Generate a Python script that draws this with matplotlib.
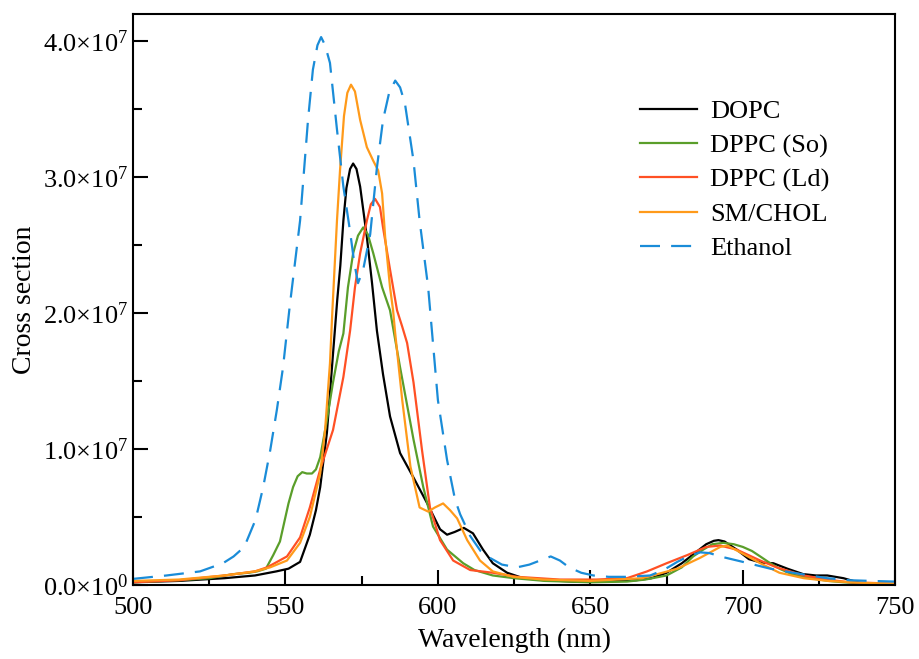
import matplotlib
matplotlib.use('Agg')
import matplotlib.pyplot as plt
from matplotlib.ticker import MultipleLocator, FuncFormatter

plt.rcParams['font.family'] = ['Liberation Serif', 'DejaVu Serif']
plt.rcParams['mathtext.fontset'] = 'custom'
plt.rcParams['mathtext.rm'] = 'Liberation Serif'
plt.rcParams['mathtext.it'] = 'Liberation Serif:italic'

# values in units of 1e7
wl_eth = [500, 511, 522, 529.5, 533, 536.5, 540.2, 542.7, 545, 547.2, 549.2, 551.4, 554.8, 557.4,
          559, 560.5, 561.7, 563, 564.6, 566.9, 569, 571.2, 572.5, 573.8, 575.5, 577.8, 580, 582,
          584, 586, 587.6, 589.2, 592, 594, 596.8, 600, 603, 605.6, 607.3, 610.6, 614, 617, 621,
          626, 630, 633.5, 637, 640, 643, 647, 651, 656, 662, 669.6, 674, 678.5, 682, 686, 689,
          692.6, 700, 709, 716.5, 722, 727.7, 735, 742, 750]
eth = [0.045, 0.07, 0.10, 0.16, 0.21, 0.28, 0.48, 0.72, 0.99, 1.29, 1.6, 2.05, 2.68, 3.42,
       3.79, 3.97, 4.03, 3.97, 3.84, 3.35, 2.93, 2.6, 2.38, 2.22, 2.32, 2.58, 3.07, 3.42,
       3.62, 3.71, 3.66, 3.54, 3.12, 2.68, 2.19, 1.36, 0.92, 0.63, 0.52, 0.36, 0.25, 0.2, 0.15,
       0.13, 0.15, 0.18, 0.21, 0.18, 0.13, 0.09, 0.07, 0.06, 0.06, 0.07, 0.11, 0.17, 0.21, 0.24, 0.235,
       0.21, 0.17, 0.12, 0.09, 0.07, 0.05, 0.035, 0.03, 0.025]

wl_dopc = [500, 515, 530, 540, 547, 551, 554.8, 558, 560, 561.4, 563.6, 565.6, 567, 568, 569, 570,
           571.2, 572.2, 573.3, 574.5, 576.7, 578.4, 580, 582, 584.3, 587.6, 592, 596.5, 600.7, 603,
           605.5, 608.5, 611.5, 614.8, 618, 622.7, 628, 635, 645, 655, 665, 670, 675, 680, 684, 688,
           690.5, 692, 694, 698, 702, 706, 710, 714.6, 719.8, 724, 727.7, 733, 738.5, 743, 750]
dopc = [0.02, 0.03, 0.05, 0.07, 0.1, 0.12, 0.17, 0.37, 0.55, 0.72, 1.12, 1.7, 2.1, 2.35, 2.68, 2.92,
        3.06, 3.1, 3.06, 2.93, 2.56, 2.22, 1.87, 1.55, 1.24, 0.97, 0.79, 0.6, 0.41, 0.37,
        0.39, 0.42, 0.38, 0.26, 0.16, 0.09, 0.05, 0.035, 0.025, 0.025, 0.035, 0.05, 0.09, 0.16, 0.23, 0.3,
        0.325, 0.33, 0.32, 0.26, 0.19, 0.165, 0.16, 0.12, 0.08, 0.07, 0.07, 0.05, 0.015, 0.005, 0.003]

wl_so = [500, 515, 525, 533, 538, 540.7, 543.6, 546, 548.2, 549.5, 551, 552.5, 554, 555.5, 557,
         558.7, 560, 561.4, 563.5, 565.6, 567.5, 569, 570.5, 572.2, 573.8, 575.5, 577, 578.8, 581.7,
         584.3, 587.6, 592, 595.2, 598.4, 603, 608.3, 612, 618, 625, 635, 650, 662, 668, 675, 680,
         683.7, 687, 690, 693.6, 697, 700, 703, 705.7, 709, 712, 716, 722, 728, 733, 740, 750]
so = [0.02, 0.035, 0.05, 0.08, 0.09, 0.1, 0.12, 0.22, 0.32, 0.45, 0.6, 0.72, 0.8, 0.83, 0.82,
      0.82, 0.85, 0.94, 1.2, 1.49, 1.72, 1.85, 2.19, 2.44, 2.57, 2.63, 2.58, 2.44, 2.19,
      2.02, 1.6, 1.07, 0.72, 0.43, 0.26, 0.16, 0.11, 0.07, 0.05, 0.03, 0.02, 0.025, 0.04, 0.07, 0.13,
      0.21, 0.26, 0.3, 0.31, 0.3, 0.28, 0.25, 0.21, 0.16, 0.12, 0.08, 0.05, 0.03, 0.02, 0.01, 0.005]

wl_ld = [500, 515, 530, 540, 544, 550.5, 554.8, 558, 561.4, 565.6, 569, 571.2, 572.8, 574.5, 576.7,
         578, 579.4, 581, 582, 584.3, 586.6, 588.3, 589.9, 592, 594.8, 597.4, 600.7, 605, 610.6, 618,
         626, 640, 652, 662, 668.6, 675, 681.8, 688, 692.6, 698, 705.7, 711, 720, 727.7, 735, 750]
ld = [0.02, 0.035, 0.07, 0.1, 0.13, 0.21, 0.35, 0.57, 0.85, 1.14, 1.53, 1.87, 2.19, 2.44, 2.68,
      2.8, 2.84, 2.78, 2.63, 2.32, 2.02, 1.9, 1.78, 1.49, 0.99, 0.57, 0.33, 0.18, 0.11, 0.09,
      0.06, 0.04, 0.04, 0.05, 0.1, 0.16, 0.22, 0.28, 0.29, 0.26, 0.18, 0.13, 0.07, 0.04, 0.02, 0.01]

wl_sm = [500, 515, 530, 540, 545, 550.5, 554.8, 558, 561.4, 563, 564.6, 565.4, 566.9, 567.9, 569.2,
         570.3, 571.5, 572.8, 574.5, 576.7, 578.8, 580.4, 581.7, 582.7, 584.3, 585.3, 586, 588.3, 591,
         594, 596.8, 599, 601.7, 604, 606.3, 609.6, 613.8, 618, 624.7, 634.5, 650, 667, 672, 678.5,
         686, 692.6, 695, 700, 705.7, 712, 720, 728, 740, 750]
sm = [0.03, 0.04, 0.07, 0.1, 0.13, 0.18, 0.31, 0.5, 0.82, 1.14, 1.63, 2.02, 2.68, 3.05, 3.45,
      3.62, 3.68, 3.63, 3.42, 3.22, 3.12, 3.05, 2.88, 2.56, 2.19, 2.02, 1.85, 1.36, 0.87,
      0.57, 0.54, 0.57, 0.6, 0.55, 0.49, 0.33, 0.18, 0.1, 0.06, 0.04, 0.03, 0.05, 0.08, 0.12,
      0.2, 0.28, 0.29, 0.23, 0.16, 0.09, 0.05, 0.03, 0.015, 0.01]

series = [
    ('DOPC', wl_dopc, dopc, '#000000', '-'),
    ('DPPC (So)', wl_so, so, '#5a9e2a', '-'),
    ('DPPC (Ld)', wl_ld, ld, '#ff5024', '-'),
    ('SM/CHOL', wl_sm, sm, '#ff9a1a', '-'),
    ('Ethanol', wl_eth, eth, '#1a8cd8', '--'),
]

fig = plt.figure(figsize=(9.19, 6.59), dpi=100)
ax = fig.add_axes([0.1447, 0.1123, 0.8295, 0.8665])

for name, xs, ys, col, ls in series:
    yv = [v * 1e7 for v in ys]
    if ls == '--':
        ax.plot(xs, yv, color=col, lw=1.6, ls='--', dashes=(9, 5), label=name)
    else:
        ax.plot(xs, yv, color=col, lw=1.6, label=name)

ax.set_xlim(500, 750)
ax.set_ylim(0, 4.2e7)
ax.xaxis.set_major_locator(MultipleLocator(50))
ax.xaxis.set_minor_locator(MultipleLocator(25))
ax.yaxis.set_major_locator(MultipleLocator(1e7))
ax.yaxis.set_minor_locator(MultipleLocator(0.5e7))


def sci(v, pos):
    if v == 0:
        return '0.0×10$^{0}$'
    e = 7
    return '%.1f×10$^{%d}$' % (v / 10 ** e, e)


ax.yaxis.set_major_formatter(FuncFormatter(sci))
ax.tick_params(which='both', direction='in', top=False, right=False, width=1.5, labelsize=19)
ax.tick_params(which='major', length=11)
ax.tick_params(which='minor', length=6.5)
ax.tick_params(axis='x', pad=9)
for s in ax.spines.values():
    s.set_linewidth(1.5)

ax.set_xlabel('Wavelength (nm)', fontsize=20, labelpad=6)
ax.set_ylabel('Cross section', fontsize=20, labelpad=4)

ax.legend(loc='upper left', bbox_to_anchor=(0.665, 0.85), frameon=False, fontsize=19,
          handlelength=2.15, handletextpad=0.5, labelspacing=0.4, borderpad=0, borderaxespad=0)

fig.savefig('out.png', dpi=100)
